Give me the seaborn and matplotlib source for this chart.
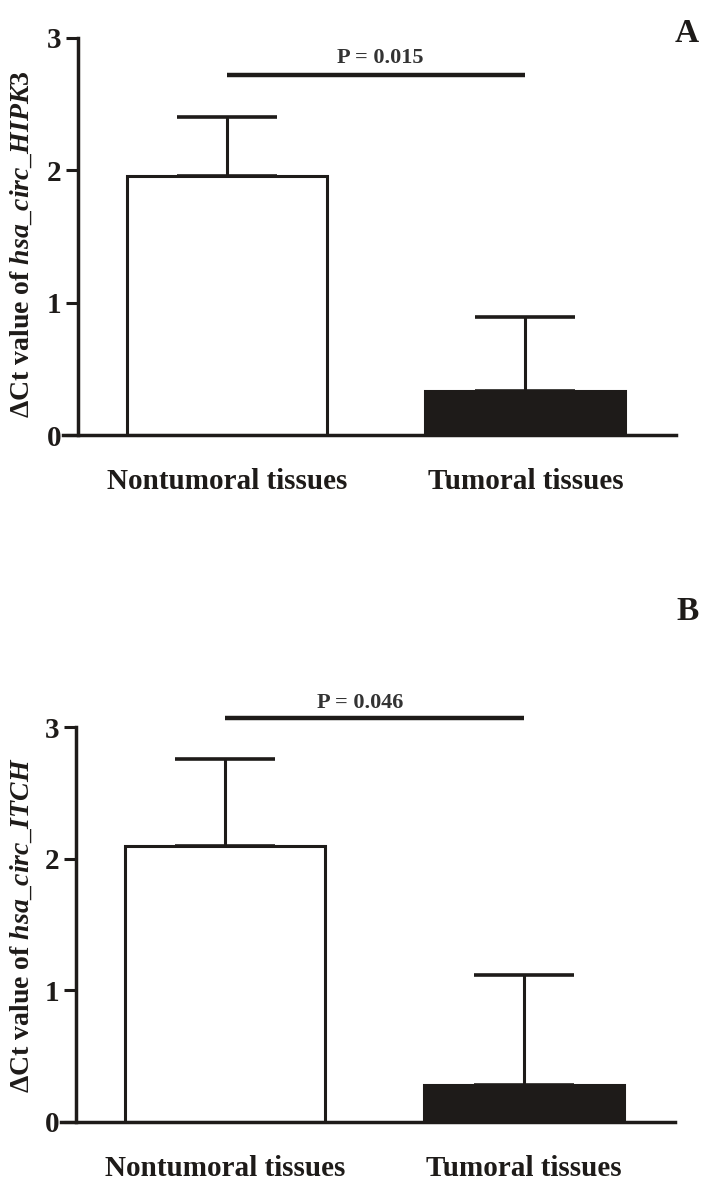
import matplotlib
matplotlib.use("Agg")
import matplotlib.pyplot as plt
import seaborn as sns
import pandas as pd
import numpy as np

# ---- data ----
categories = ["Nontumoral tissues", "Tumoral tissues"]
means_A = [1.96, 0.33]
err_A = [0.44, 0.56]
means_B = [2.10, 0.28]
err_B = [0.66, 0.84]
yticks = [0, 1, 2, 3]
p_A = "P = 0.015"
p_B = "P = 0.046"
gene_A = "HIPK3"
gene_B = "ITCH"

sns.set_theme(style="white")
plt.rcParams["font.family"] = ["Liberation Serif", "DejaVu Serif"]
plt.rcParams["font.weight"] = "bold"
plt.rcParams["mathtext.fontset"] = "custom"
plt.rcParams["mathtext.it"] = "Liberation Serif:italic:bold"
plt.rcParams["mathtext.rm"] = "Liberation Serif:bold"
plt.rcParams["mathtext.bf"] = "Liberation Serif:bold"

W, H = 702, 1185
fig = plt.figure(figsize=(W / 100, H / 100), dpi=100)
BLACK = "#1e1b19"


def panel(rect, means, errs, gene, ptxt, p_y, p_text_xy, letter, letter_xy, ylab_xy):
    ax = fig.add_axes(rect)
    df = pd.DataFrame({"group": categories, "value": means})
    sns.barplot(data=df, x="group", y="value", hue="group",
                palette=["white", BLACK], width=0.67, edgecolor=BLACK,
                linewidth=2.2, legend=False, ax=ax, errorbar=None,
                saturation=1)
    ax.errorbar(range(len(means)), means,
                yerr=[np.zeros(len(errs)), errs], fmt="none",
                ecolor=BLACK, elinewidth=2.2, capsize=36, capthick=2.6,
                zorder=1)
    ax.set_xlim(-0.55, 1.505)
    ax.set_ylim(0, 3)
    ax.set_yticks(yticks)
    ax.set_yticklabels([str(t) for t in yticks])
    for s in ["top", "right"]:
        ax.spines[s].set_visible(False)
    ax.spines["left"].set_position(("data", -0.5))
    for s in ["left", "bottom"]:
        ax.spines[s].set_linewidth(2.5)
        ax.spines[s].set_color(BLACK)
    ax.tick_params(axis="y", direction="out", length=9, width=2.2,
                   color=BLACK, pad=3, left=True, labelsize=21,
                   labelcolor=BLACK)
    ax.tick_params(axis="x", length=0, pad=24, labelsize=21,
                   labelcolor=BLACK)
    for lab in ax.get_xticklabels() + ax.get_yticklabels():
        lab.set_fontweight("bold")
    ax.set_xlabel("")
    ax.set_ylabel("")
    ax.patch.set_alpha(0)
    # significance bar
    ax.plot([0, 1], [p_y, p_y], color=BLACK, lw=3.2, clip_on=False,
            solid_capstyle="butt")
    fig.text(p_text_xy[0] / W, 1 - p_text_xy[1] / H, ptxt, ha="center",
             va="center", fontsize=16, fontweight="bold", color="#333333")
    fig.text(letter_xy[0] / W, 1 - letter_xy[1] / H, letter, ha="center",
             va="center", fontsize=24, fontweight="bold", color=BLACK)
    fig.text(ylab_xy[0] / W, 1 - ylab_xy[1] / H,
             r"ΔCt value of $\mathit{hsa\_circ\_" + gene + "}$",
             rotation=90, ha="center", va="center", fontsize=20,
             fontweight="bold", color=BLACK)
    return ax


panel([63 / W, 750 / H, 613 / W, 397 / H], means_A, err_A, gene_A, p_A,
      2.72, (380, 58), "A", (687, 34), (22, 244))
panel([61 / W, 63 / H, 614 / W, 395 / H], means_B, err_B, gene_B, p_B,
      3.07, (360, 703), "B", (688, 611), (22, 925))

fig.savefig("out.png", dpi=100, facecolor="white")
